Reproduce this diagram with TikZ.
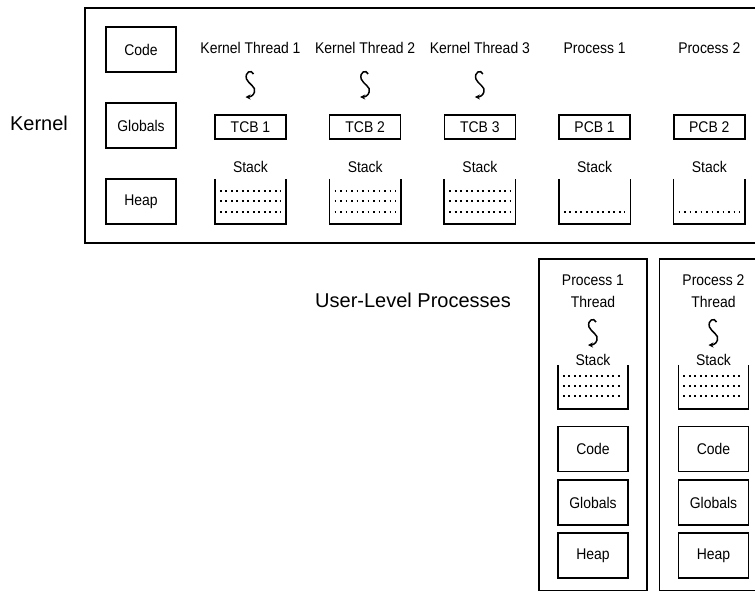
\documentclass[tikz,border=0pt]{standalone}
\usepackage{fontspec}
\setmainfont{Liberation Sans}
\newfontfamily\narrowfont[FakeStretch=0.9]{Liberation Sans}
\usetikzlibrary{arrows.meta,calc,positioning}

% thread squiggle at a coordinate
\newcommand\thrd[1]{%
  \begin{scope}[shift={(#1)}]
    \draw[line width=1.5pt,-{Stealth[length=5pt,width=5pt]}] (3,-11) .. controls (1,-16) and (-6,-13) .. (-4,-6)
      .. controls (-2,-1) and (6,2) .. (4,7) .. controls (3,11) and (-1,12) .. (-5,12);
  \end{scope}}

\begin{document}
\begin{tikzpicture}[x=1pt,y=-1pt,font=\narrowfont\fontsize{15.5}{18}\selectfont,
  box/.style={draw,line width=1.5pt,minimum width=70pt,minimum height=45pt,inner sep=0pt},
  cb/.style={draw,line width=1.5pt,minimum width=71pt,minimum height=24pt,inner sep=0pt},
  stk/.style={minimum width=71pt,minimum height=45pt,inner sep=0pt},
  dots/.style={line width=1.8pt,dash pattern=on 1.8pt off 3.7pt},
  big/.style={font=\normalfont\fontsize{20}{24}\selectfont}]
\useasboundingbox (0,0) rectangle (755,592);
\clip (0,0) rectangle (755,592);

% kernel
\draw[line width=1.6pt] (85,8) rectangle (765,243);
\node[big] (kl) at (39,123) {Kernel};
\node[box] (kc) at (141,49.5) {Code};
\node[box] (kg) at (141,125.5) {Globals};
\node[box] (kh) at (141,201.5) {Heap};
\foreach \x/\t/\b/\n in {250.5/Kernel Thread 1/TCB 1/1,365.2/Kernel Thread 2/TCB 2/2,479.9/Kernel Thread 3/TCB 3/3,594.6/Process 1/PCB 1/4,709.3/Process 2/PCB 2/5}{
  \node (kt\n) at (\x,48) {\t};
  \node[cb] (cb\n) at (\x,127) {\b};
  \node (sl\n) at (\x,167) {Stack};
  \node[stk] (st\n) at (\x,201.5) {};
  \draw[line width=1.5pt] (st\n.north west) |- (st\n.south east) -- (st\n.north east);
  \draw[dots] ($(st\n.south west)+(5,-12.5)$) -- ($(st\n.south east)+(-5,-12.5)$);
}
\foreach \n in {1,2,3}{
  \coordinate (sq\n) at ($(kt\n)+(0,37)$);
  \thrd{sq\n}
  \draw[dots] ($(st\n.south west)+(5,-23)$) -- ($(st\n.south east)+(-5,-23)$);
  \draw[dots] ($(st\n.south west)+(5,-33)$) -- ($(st\n.south east)+(-5,-33)$);
}

% user-level processes
\node[big] (ul) at (413,300) {User-Level Processes};
\foreach \x/\n in {593/1,713.5/2}{
  \draw[line width=1.6pt] (\x-54,259) rectangle (\x+54,590.5);
  \node (pt\n) at (\x,280) {Process \n};
  \node (th\n) at (\x,302) {Thread};
  \coordinate (uq\n) at (\x,333);
  \thrd{uq\n}
  \node (us\n) at (\x,360) {Stack};
  \node[stk,minimum width=70pt,minimum height=44pt] (ust\n) at (\x,387) {};
  \draw[line width=1.5pt] (ust\n.north west) |- (ust\n.south east) -- (ust\n.north east);
  \foreach \d in {13,23,33}
    \draw[dots] ($(ust\n.south west)+(5,-\d)$) -- ($(ust\n.south east)+(-5,-\d)$);
  \node[box] (uc\n) at (\x,449) {Code};
  \node[box] (ug\n) at (\x,502.5) {Globals};
  \node[box] (uh\n) at (\x,555.5) {Heap};
}
\end{tikzpicture}
\end{document}
